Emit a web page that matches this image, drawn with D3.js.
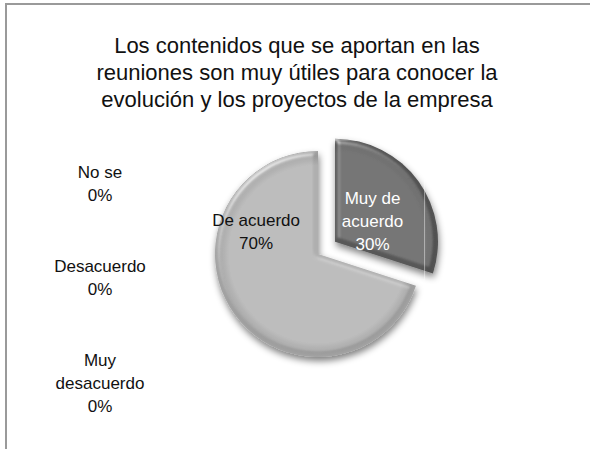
<!DOCTYPE html>
<html>
<head>
<meta charset="utf-8">
<script src="https://cdn.jsdelivr.net/npm/d3@7"></script>
<style>
  html, body { margin: 0; padding: 0; background: #fff; }
  svg { display: block; font-family: "Liberation Sans", Arial, sans-serif; }
</style>
</head>
<body>
<svg id="chart" width="590" height="449"></svg>
<script>
// Survey answers, in drawing order (clockwise from 12 o'clock)
const categories = ["Muy de acuerdo", "De acuerdo", "No se", "Desacuerdo", "Muy desacuerdo"];
const percentages = [30, 70, 0, 0, 0];
const sliceColors = ["#595959", "#afafaf", "#8c8c8c", "#7a7a7a", "#6a6a6a"];
const titleLines = [
  "Los contenidos que se aportan en las",
  "reuniones son muy útiles para conocer la",
  "evolución y los proyectos de la empresa"
];

const svg = d3.select("#chart");

// chart frame (only top and left edges are inside the window)
svg.append("rect")
  .attr("x", 6).attr("y", 4)
  .attr("width", 590).attr("height", 460)
  .attr("fill", "#fff")
  .attr("stroke", "#9a9a9a")
  .attr("stroke-width", 2);

// title
const title = svg.append("text")
  .attr("text-anchor", "middle")
  .attr("font-size", 22)
  .attr("fill", "#111");
titleLines.forEach((t, i) => {
  title.append("tspan").attr("x", 297).attr("y", 53 + i * 27).text(t);
});

const defs = svg.append("defs");

// soft shadow + edge bevel for the slices
const fx = defs.append("filter").attr("id", "bevel")
  .attr("x", "-30%").attr("y", "-30%").attr("width", "160%").attr("height", "160%");
fx.append("feGaussianBlur").attr("in", "SourceAlpha").attr("stdDeviation", 3.5).attr("result", "b");
fx.append("feOffset").attr("in", "b").attr("dx", 1).attr("dy", 4).attr("result", "o");
fx.append("feComponentTransfer").attr("in", "o").attr("result", "s")
  .append("feFuncA").attr("type", "linear").attr("slope", 0.5);
fx.append("feGaussianBlur").attr("in", "SourceAlpha").attr("stdDeviation", 2.5).attr("result", "ab");
const spec = fx.append("feSpecularLighting")
  .attr("in", "ab").attr("surfaceScale", 3).attr("specularConstant", 0.5)
  .attr("specularExponent", 16).attr("lighting-color", "#ffffff").attr("result", "sp");
spec.append("feDistantLight").attr("azimuth", 235).attr("elevation", 40);
fx.append("feComposite").attr("in", "sp").attr("in2", "SourceAlpha").attr("operator", "in").attr("result", "spIn");
fx.append("feComposite").attr("in", "SourceGraphic").attr("in2", "spIn")
  .attr("operator", "arithmetic").attr("k1", 0).attr("k2", 1).attr("k3", 0.8).attr("k4", 0).attr("result", "lit");
const merge = fx.append("feMerge");
merge.append("feMergeNode").attr("in", "s");
merge.append("feMergeNode").attr("in", "lit");

const cx = 318, cy = 254, R = 103, explode = 21;

// rim shading per slice
sliceColors.forEach((c, i) => {
  const g = defs.append("radialGradient").attr("id", "grad" + i)
    .attr("gradientUnits", "userSpaceOnUse").attr("cx", 0).attr("cy", 0).attr("r", R);
  g.append("stop").attr("offset", "0%").attr("stop-color", c);
  g.append("stop").attr("offset", "86%").attr("stop-color", c);
  g.append("stop").attr("offset", "95%").attr("stop-color", d3.color(c).darker(0.35));
  g.append("stop").attr("offset", "100%").attr("stop-color", d3.color(c).darker(0.2));
});

const pie = d3.pie().sort(null).value(d => d)(percentages);
const arc = d3.arc().innerRadius(0).outerRadius(R);

const pieG = svg.append("g").attr("transform", `translate(${cx},${cy})`);
const slices = pieG.selectAll("g.slice")
  .data(pie.filter(d => d.value > 0))
  .join("g").attr("class", "slice")
  .attr("transform", d => {
    if (d.index !== 0) return null;
    const a = (d.startAngle + d.endAngle) / 2;
    return `translate(${Math.sin(a) * explode},${-Math.cos(a) * explode})`;
  });
slices.append("path")
  .attr("d", arc)
  .attr("fill", d => `url(#grad${d.index})`)
  .attr("filter", "url(#bevel)");

// data labels
const labelFont = 17, lineH = 23;
function multiLineLabel(g, lines, x, yFirst, color) {
  const t = g.append("text").attr("text-anchor", "middle")
    .attr("font-size", labelFont).attr("fill", color);
  lines.forEach((l, i) => t.append("tspan").attr("x", x).attr("y", yFirst + 6 + i * lineH).text(l));
  return t;
}

// "Muy de acuerdo" label centred on its slice, with its faint label frame
const lblArc = d3.arc().innerRadius(0).outerRadius(R * 0.95);
slices.filter(d => d.index === 0).each(function(d) {
  const g = d3.select(this);
  const [x, y] = lblArc.centroid(d);
  g.append("rect")
    .attr("x", x - 48).attr("y", y - 73)
    .attr("width", 98).attr("height", 140)
    .attr("fill", "none")
    .attr("stroke", "#ffffff").attr("stroke-opacity", 0.45).attr("stroke-width", 1);
  multiLineLabel(g, ["Muy de", "acuerdo", d.value + "%"], x - 2, y - lineH + 8, "#ffffff");
});
// "De acuerdo" label toward the upper-left of its slice
slices.filter(d => d.index === 1).each(function(d) {
  const a = 290 * Math.PI / 180, r = R * 0.64;
  multiLineLabel(d3.select(this), [categories[d.index], d.value + "%"],
    Math.sin(a) * r, -Math.cos(a) * r - lineH / 2, "#111");
});

// empty categories are listed in a column at the left
const zeros = pie.filter(d => d.value === 0);
const yZero = d3.scalePoint().domain(zeros.map(d => categories[d.index])).range([172, 360]);
zeros.forEach(d => {
  const name = categories[d.index];
  const words = name === "Muy desacuerdo" ? ["Muy", "desacuerdo"] : [name];
  multiLineLabel(svg, [...words, d.value + "%"], 100, yZero(name), "#111");
});
</script>
</body>
</html>
